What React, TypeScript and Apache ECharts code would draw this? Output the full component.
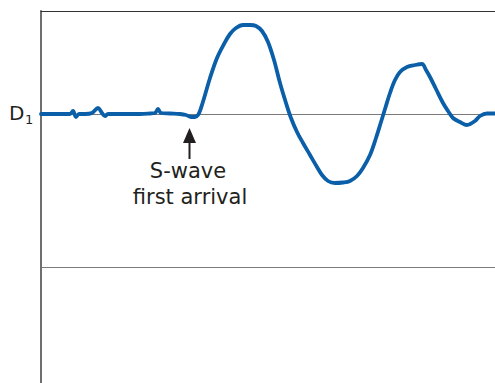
import React, { useEffect, useRef } from "react";
import * as echarts from "echarts";

// Time axis (arbitrary units) and ground displacement (arbitrary units, 0 = D1 level)
const timeValues: number[] = [
  0, 19, 29, 32, 35, 38, 44, 51, 57, 61, 64, 67, 79, 99, 109, 114, 117, 120, 129, 139,
  145, 150, 154, 157, 160, 164, 169, 176, 183, 189, 195, 202, 209, 215, 221, 227, 233,
  239, 245, 250, 256, 262, 269, 276, 281, 287, 294, 302, 309, 316, 322, 329, 335, 340,
  344, 349, 354, 359, 366, 374, 381, 385, 389, 395, 402, 407, 412, 419, 426, 434, 439,
  446, 454,
];
const displacement: number[] = [
  0, 0, 0, 3, -3, 0, 0, 1, 6, 1, -2, 0, 0, 0, 0.5, 1, 5, 1, 0.5, 0,
  -1, -3, -3, -1, 6, 19, 36, 56, 70, 80, 86, 89, 89, 88, 83, 72, 54, 31, 11, -4, -18,
  -29, -41, -53, -61, -67, -69, -68.5, -67, -62, -54, -41, -24, -8, 5, 21, 34, 42, 47,
  49, 50, 44, 37, 25, 11, 3, -4, -8, -11, -7, -2, 0.5, 0.5,
];
const baselineLevel = 0;
const lowerLevel = -153;
const yMin = -269;
const yMax = 103;
const xMin = 0;
const xMax = 454;

export default function App() {
  const ref = useRef<HTMLDivElement>(null);
  useEffect(() => {
    if (!ref.current) return;
    const chart = echarts.init(ref.current, undefined, { renderer: "svg" });
    const data = timeValues.map((t, i) => [t, displacement[i]]);
    const textColor = "#231f20";
    const font = "DejaVu Sans";
    chart.setOption({
      animation: false,
      backgroundColor: "#ffffff",
      grid: { left: 41, right: 0, top: 11, bottom: 0, containLabel: false },
      xAxis: {
        type: "value",
        min: xMin,
        max: xMax,
        position: "top",
        axisLine: { show: true, onZero: false, lineStyle: { color: "#333333", width: 1 } },
        axisTick: { show: false },
        axisLabel: { show: false },
        splitLine: { show: false },
      },
      yAxis: {
        type: "value",
        min: yMin,
        max: yMax,
        axisLine: { show: true, onZero: false, lineStyle: { color: "#6f6f6f", width: 2 } },
        axisTick: { show: false },
        axisLabel: { show: false },
        splitLine: { show: false },
      },
      series: [
        {
          type: "line",
          data,
          smooth: 0.35,
          showSymbol: false,
          symbol: "none",
          clip: false,
          lineStyle: { color: "#0a5fa8", width: 3.8, cap: "round", join: "round" },
          z: 5,
          markLine: {
            silent: true,
            symbol: ["none", "none"],
            label: { show: false },
            lineStyle: { color: "#7a7a7a", width: 1, type: "solid" },
            z: 1,
            data: [{ yAxis: baselineLevel }, { yAxis: lowerLevel }],
          },
        },
      ],
      graphic: [
        {
          type: "text",
          left: 9,
          top: 103,
          style: { text: "D", font: `20px '${font}'`, fill: textColor },
        },
        {
          type: "text",
          left: 25,
          top: 113,
          style: { text: "1", font: `13px '${font}'`, fill: textColor },
        },
        {
          type: "line",
          shape: { x1: 189.5, y1: 159, x2: 189.5, y2: 140 },
          style: { stroke: textColor, lineWidth: 2 },
        },
        {
          type: "polygon",
          shape: { points: [[183, 143], [196, 143], [189.5, 128]] },
          style: { fill: textColor },
        },
        {
          type: "text",
          x: 188,
          y: 181,
          style: {
            text: "S-wave",
            font: `21px '${font}'`,
            fill: textColor,
            textAlign: "center",
            textVerticalAlign: "bottom",
          },
        },
        {
          type: "text",
          x: 190,
          y: 207,
          style: {
            text: "first arrival",
            font: `21px '${font}'`,
            fill: textColor,
            textAlign: "center",
            textVerticalAlign: "bottom",
          },
        },
      ],
    });
    return () => chart.dispose();
  }, []);
  return <div ref={ref} style={{ width: 495, height: 383, position: "absolute", left: 0, top: 0 }} />;
}
